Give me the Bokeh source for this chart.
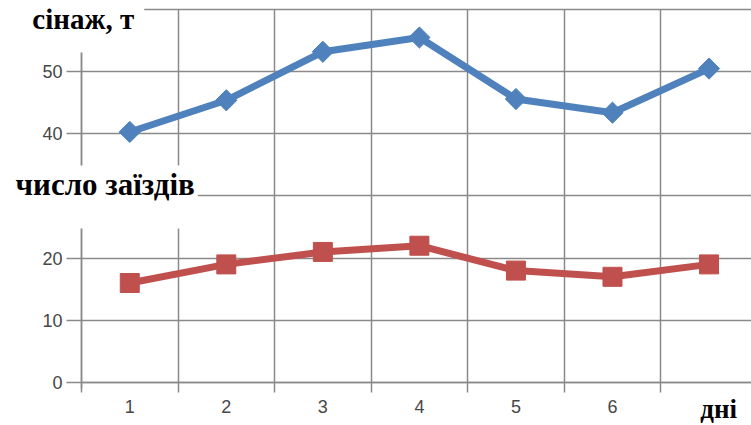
import math

from bokeh.plotting import figure
from bokeh.models import Range1d, FixedTicker, Label, ColumnDataSource
from bokeh.embed import file_html
from bokeh.resources import INLINE

# Daily data
days = [1, 2, 3, 4, 5, 6, 7]
silage_t = [40.3, 45.4, 53.2, 55.5, 45.6, 43.4, 50.5]   # сінаж, т
arrivals = [16, 19, 21, 22, 18, 17, 19]                  # число заїздів

day_tick_labels = ["1", "2", "3", "4", "5", "6"]
y_tick_values = [0, 10, 20, 40, 50]
grid_levels = [0, 10, 20, 30, 40, 50, 60]

BLUE = "#4F81BD"
RED = "#C0504D"
GRID = "#8A8A8A"
TICK_TEXT = "#474747"
SERIF = "Liberation Serif"
SANS = "Liberation Sans"

X_LO, X_HI = 0.5, 7.44      # plotting area along x (category units)
Y_LO, Y_HI = 0, 60

src = ColumnDataSource(dict(day=days, silage=silage_t, arrivals=arrivals))

# the frame fills the canvas; axes sit at fixed positions inside it so the
# captions can be placed next to them
p = figure(width=751, height=425, output_backend="svg", toolbar_location=None,
           x_range=Range1d(-0.339, X_HI), y_range=Range1d(-6.92, 61.45),
           min_border=0)
p.outline_line_color = None
p.background_fill_color = "white"
p.border_fill_color = "white"

boundaries = [d - 0.5 for d in days] + [days[-1] + 0.5]

xa = p.xaxis[0]
xa.fixed_location = Y_LO
xa.bounds = (X_LO, X_HI)
xa.ticker = FixedTicker(ticks=days[:-1], minor_ticks=boundaries)
xa.major_label_overrides = {d: lab for d, lab in zip(days, day_tick_labels)}
xa.major_tick_out = 0
xa.major_tick_in = 0
xa.minor_tick_out = 10
xa.minor_tick_in = 0
xa.minor_tick_line_color = GRID
xa.minor_tick_line_width = 1.5
xa.axis_line_color = GRID
xa.axis_line_width = 1.5
xa.major_label_standoff = 8
xa.major_label_text_font = SANS
xa.major_label_text_font_size = "18px"
xa.major_label_text_color = TICK_TEXT

ya = p.yaxis[0]
ya.fixed_location = X_LO
ya.bounds = (-1, Y_HI)
ya.ticker = FixedTicker(ticks=y_tick_values)
ya.major_tick_out = 15
ya.major_tick_in = 0
ya.minor_tick_out = 0
ya.major_tick_line_color = GRID
ya.major_tick_line_width = 1.5
ya.axis_line_color = GRID
ya.axis_line_width = 1.5
ya.major_label_standoff = 4
ya.major_label_text_font = SANS
ya.major_label_text_font_size = "18px"
ya.major_label_text_color = TICK_TEXT

p.xgrid.ticker = FixedTicker(ticks=boundaries)
p.xgrid.cross_bounds = (Y_LO, Y_HI)
p.ygrid.ticker = FixedTicker(ticks=grid_levels)
p.ygrid.cross_bounds = (X_LO, X_HI)
for g in (p.xgrid[0], p.ygrid[0]):
    g.grid_line_color = GRID
    g.grid_line_width = 1.5

# series
p.line("day", "silage", source=src, line_color=BLUE, line_width=7)
p.scatter("day", "silage", source=src, marker="square", angle=math.pi / 4,
          size=15, fill_color=BLUE, line_color=BLUE)
p.line("day", "arrivals", source=src, line_color=RED, line_width=7)
p.scatter("day", "arrivals", source=src, marker="square", size=19,
          fill_color=RED, line_color=RED)

# axis captions on white boxes
p.add_layout(Label(x=-0.03, y=61.29, text="сінаж, т", text_font=SERIF,
                   text_font_style="bold", text_font_size="29px",
                   text_color="black", text_baseline="top", text_align="left",
                   background_fill_color="white",
                   padding=dict(left=2, right=10, top=2, bottom=17)))
p.add_layout(Label(x=-0.204, y=29.84, text="число заїздів", text_font=SERIF,
                   text_font_style="bold", text_font_size="31px",
                   text_color="black", text_baseline="middle", text_align="left",
                   background_fill_color="white",
                   padding=dict(left=2, right=3, top=2, bottom=26)))
p.add_layout(Label(x=7.1, y=-4.3, text="дні", text_font=SERIF,
                   text_font_style="bold", text_font_size="27px",
                   text_color="black", text_baseline="middle", text_align="center"))

open("out.html", "w").write(file_html(p, INLINE))
